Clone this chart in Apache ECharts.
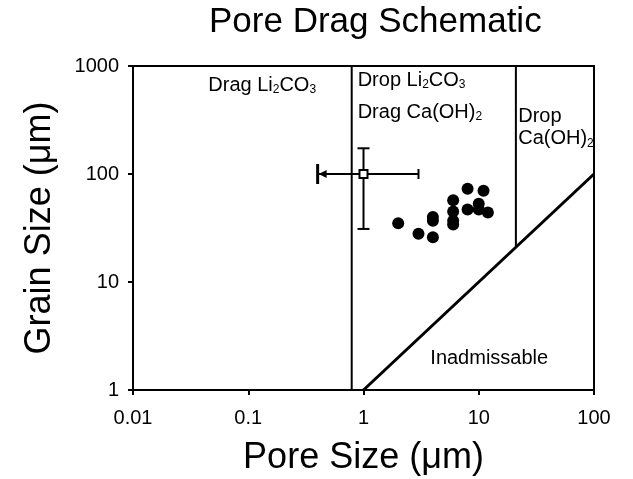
<!DOCTYPE html>
<html>
<head>
<meta charset="utf-8">
<script src="https://cdn.jsdelivr.net/npm/echarts@6/dist/echarts.min.js"></script>
<style>
  html, body { margin: 0; padding: 0; background: #fff; }
  #chart { width: 633px; height: 479px; }
</style>
</head>
<body>
<div id="chart"></div>
<script>
// measured grains (pore size vs grain size)
var poreSize = [2, 3, 4, 4, 4, 6, 6, 6, 6, 8, 8, 10, 10, 11, 12];
var grainSize = [35, 28, 26, 40, 37, 57, 45, 37, 34, 73, 47, 53, 47, 70, 44];

// point with error bars
var expPoint = [1, 100];
var expYErr = [31, 173];
var expXErr = [0.4, 3];

// regime boundaries
var dragLimitX = 0.79;
var dropLimitX = 21;
var diagX = [1, 100]; // grain = pore

var xTicks = [0.01, 0.1, 1, 10, 100];
var yTicks = [1, 10, 100, 1000];

// text notes: [x, y, text]
var notes = [
    [0.045, 667, 'Drag Li{s|2}CO{s|3}'],
    [0.89, 742, 'Drop Li{s|2}CO{s|3}'],
    [0.89, 375, 'Drag Ca(OH){s|2}'],
    [22, 344, 'Drop'],
    [22, 211, 'Ca(OH){s|2}'],
    [3.8, 1.94, 'Inadmissable']
];

var FONT = 'Liberation Sans, Arial, sans-serif';
var chart = echarts.init(document.getElementById('chart'));

var option = {
    backgroundColor: '#fff',
    animation: false,
    title: {
        text: 'Pore Drag Schematic',
        left: 204,
        top: 0,
        textStyle: { fontFamily: FONT, fontSize: 35, fontWeight: 'normal', color: '#000' }
    },
    grid: {
        left: 133, right: 39, top: 66, bottom: 89,
        outerBoundsMode: 'none',
        show: true, borderColor: '#000', borderWidth: 2
    },
    xAxis: {
        type: 'log', logBase: 10, min: 0.01, max: 100,
        name: 'Pore Size (\u03bcm)', nameLocation: 'middle', nameGap: 50,
        nameTextStyle: { fontFamily: FONT, fontSize: 36, color: '#000' },
        axisLine: { lineStyle: { color: '#000', width: 2 } },
        axisTick: { length: 5, lineStyle: { color: '#000', width: 2 } },
        axisLabel: {
            fontFamily: FONT, fontSize: 20, color: '#000', margin: 18,
            formatter: function (v) { return xTicks.indexOf(+v.toPrecision(3)) >= 0 ? String(+v.toPrecision(3)) : ''; }
        },
        splitLine: { show: false }
    },
    yAxis: {
        type: 'log', logBase: 10, min: 1, max: 1000,
        name: 'Grain Size (\u03bcm)', nameLocation: 'middle', nameGap: 75, nameRotate: 90,
        nameTextStyle: { fontFamily: FONT, fontSize: 36, color: '#000' },
        axisLine: { lineStyle: { color: '#000', width: 2 } },
        axisTick: { length: 5, lineStyle: { color: '#000', width: 2 } },
        axisLabel: {
            fontFamily: FONT, fontSize: 20, color: '#000', margin: 14,
            formatter: function (v) { return yTicks.indexOf(+v.toPrecision(3)) >= 0 ? String(+v.toPrecision(3)) : ''; }
        },
        splitLine: { show: false }
    },
    series: [
        {
            type: 'line', symbol: 'none', silent: true,
            lineStyle: { color: '#000', width: 2 },
            data: [[dragLimitX, 1], [dragLimitX, 1000]]
        },
        {
            type: 'line', symbol: 'none', silent: true,
            lineStyle: { color: '#000', width: 2 },
            data: [[dropLimitX, dropLimitX], [dropLimitX, 1000]]
        },
        {
            type: 'line', symbol: 'none', silent: true,
            lineStyle: { color: '#000', width: 3 },
            data: [[diagX[0], diagX[0]], [diagX[1], diagX[1]]]
        },
        {
            type: 'scatter', symbol: 'circle', symbolSize: 12,
            itemStyle: { color: '#000', opacity: 1 },
            data: poreSize.map(function (x, i) { return [x, grainSize[i]]; })
        },
        {
            type: 'custom', z: 3,
            renderItem: function (params, api) {
                var c = api.coord([api.value(0), api.value(1)]);
                var lo = api.coord([api.value(0), api.value(2)]);
                var hi = api.coord([api.value(0), api.value(3)]);
                var l = api.coord([api.value(4), api.value(1)]);
                var r = api.coord([api.value(5), api.value(1)]);
                var st = { stroke: '#000', lineWidth: 2 };
                return {
                    type: 'group',
                    children: [
                        { type: 'line', shape: { x1: c[0], y1: lo[1], x2: c[0], y2: hi[1] }, style: st },
                        { type: 'line', shape: { x1: c[0] - 6, y1: lo[1], x2: c[0] + 6, y2: lo[1] }, style: st },
                        { type: 'line', shape: { x1: c[0] - 6, y1: hi[1], x2: c[0] + 6, y2: hi[1] }, style: st },
                        { type: 'line', shape: { x1: l[0], y1: c[1], x2: r[0], y2: c[1] }, style: st },
                        { type: 'line', shape: { x1: r[0], y1: c[1] - 5, x2: r[0], y2: c[1] + 5 }, style: st },
                        { type: 'line', shape: { x1: l[0], y1: c[1] - 10, x2: l[0], y2: c[1] + 10 }, style: { stroke: '#000', lineWidth: 3 } },
                        { type: 'polygon', shape: { points: [[l[0] + 1, c[1]], [l[0] + 9, c[1] - 4], [l[0] + 9, c[1] + 4]] }, style: { fill: '#000' } }
                    ]
                };
            },
            data: [[expPoint[0], expPoint[1], expYErr[0], expYErr[1], expXErr[0], expXErr[1]]]
        },
        {
            type: 'scatter', symbol: 'rect', symbolSize: 8, z: 4,
            itemStyle: { color: '#fff', borderColor: '#000', borderWidth: 2, opacity: 1 },
            data: [expPoint]
        },
        {
            type: 'scatter', symbolSize: 0, silent: true,
            itemStyle: { opacity: 1 },
            label: {
                show: true, position: 'right', distance: 0,
                fontFamily: FONT, fontSize: 20, color: '#000', lineHeight: 22,
                formatter: function (p) { return p.value[2]; },
                rich: {
                    s: { fontFamily: FONT, fontSize: 12, color: '#000', lineHeight: 8, verticalAlign: 'bottom' }
                }
            },
            data: notes
        }
    ]
};

chart.setOption(option);
</script>
</body>
</html>
